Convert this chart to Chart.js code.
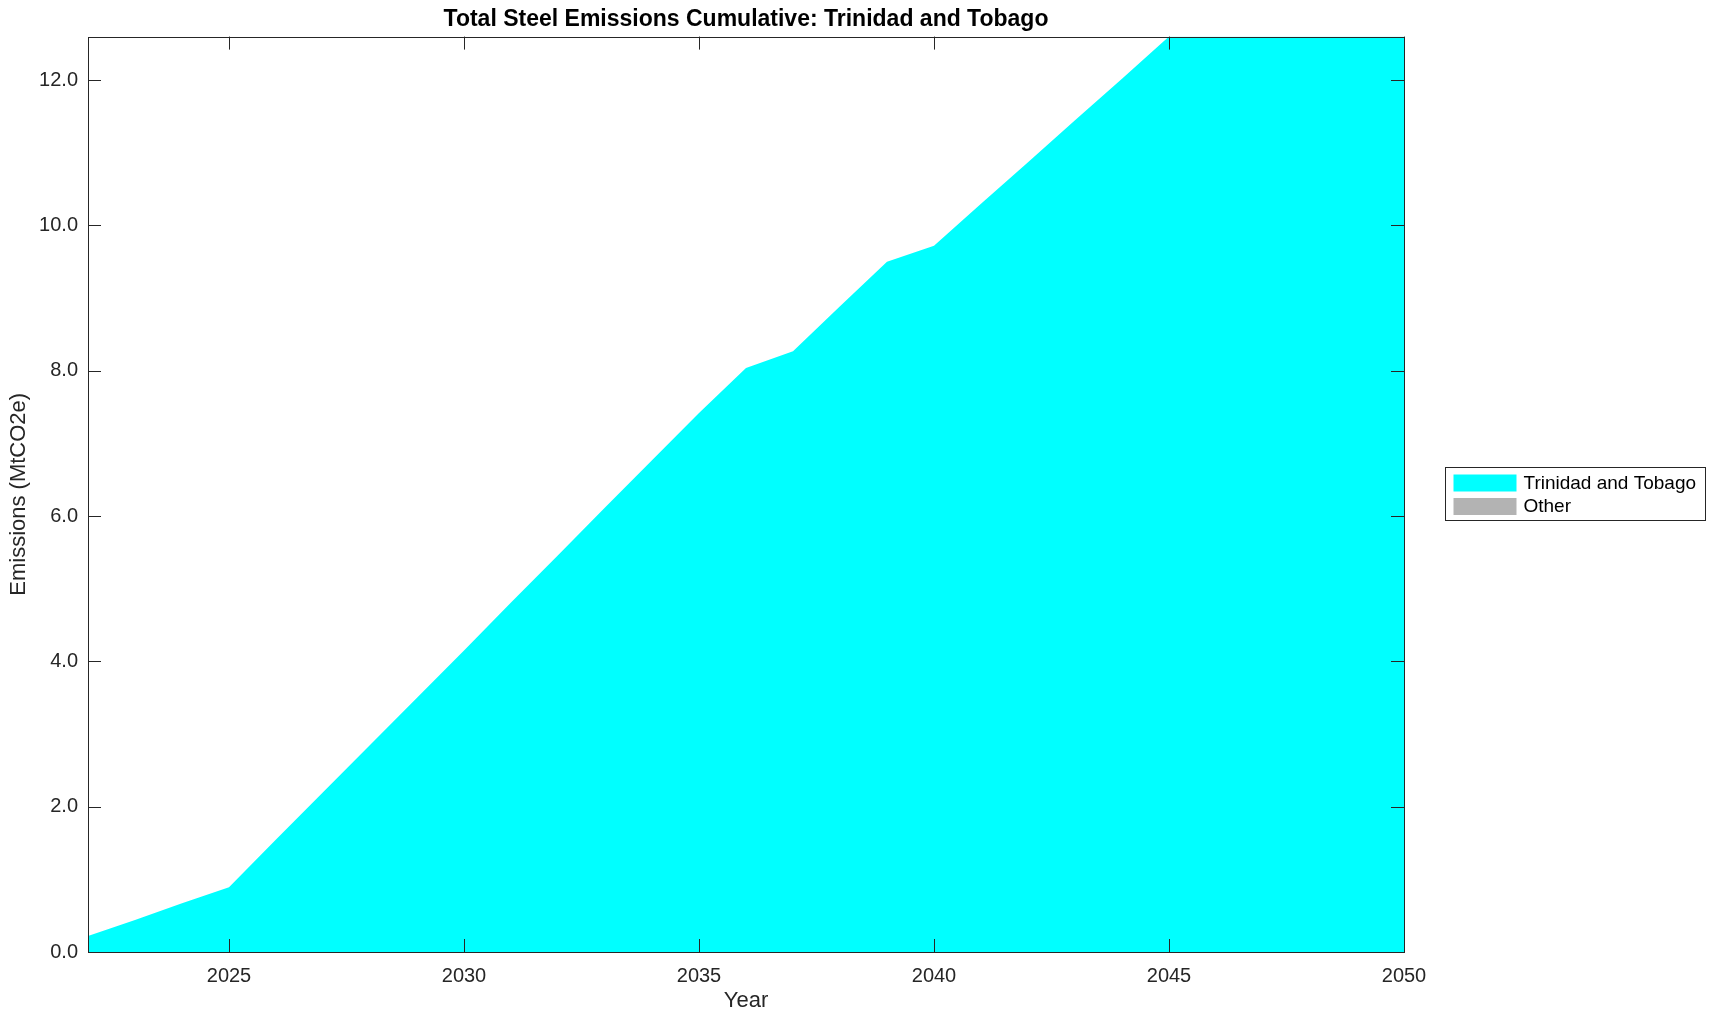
<!DOCTYPE html>
<html lang="en">
<head>
    <meta charset="UTF-8">
    <title>Total Steel Emissions Cumulative: Trinidad and Tobago</title>
    <script src="https://cdn.jsdelivr.net/npm/chart.js"></script>
    <style>
        html, body { margin: 0; padding: 0; background: #fff; }
        #wrap { width: 1716px; height: 1021px; position: relative; }
    </style>
</head>
<body>
    <div id="wrap"><canvas id="chart" width="1716" height="1021"></canvas></div>

    <script>
        // values (MtCO2e, cumulative)
        const years = [2022, 2023, 2024, 2025, 2026, 2027, 2028, 2029, 2030, 2031, 2032, 2033, 2034, 2035,
                       2036, 2037, 2038, 2039, 2040, 2041, 2042, 2043, 2044, 2045, 2046, 2047, 2048, 2049, 2050];
        const trinidad = [0.22, 0.44, 0.67, 0.89, 1.55, 2.20, 2.85, 3.50, 4.15, 4.81, 5.46, 6.12, 6.77, 7.42,
                          8.04, 8.27, 8.89, 9.50, 9.72, 10.30, 10.87, 11.45, 12.02, 12.60, 12.60, 12.60, 12.60, 12.60, 12.60];
        const other = [0, 0, 0, 0, 0, 0, 0, 0, 0, 0, 0, 0, 0, 0,
                       0, 0, 0, 0, 0, 0, 0, 0, 0, 0, 0, 0, 0, 0, 0];
        const xTicks = [2025, 2030, 2035, 2040, 2045, 2050];
        const yTicks = [0, 2, 4, 6, 8, 10, 12];

        const axisColor = '#262626';
        const fontFamily = '"Liberation Sans", Arial, Helvetica, sans-serif';

        const toPoints = (vals) => years.map((y, i) => ({ x: y, y: vals[i] }));

        // box around the axes with inward ticks on all four sides (MATLAB style)
        const boxPlugin = {
            id: 'box',
            afterDatasetsDraw(chart) {
                const { ctx, chartArea: a, scales } = chart;
                const len = 13;
                ctx.save();
                ctx.strokeStyle = axisColor;
                ctx.lineWidth = 1;
                ctx.beginPath();
                xTicks.forEach(v => {
                    const px = Math.round(scales.x.getPixelForValue(v)) + 0.5;
                    ctx.moveTo(px, a.bottom); ctx.lineTo(px, a.bottom - len);
                    ctx.moveTo(px, a.top); ctx.lineTo(px, a.top + len);
                });
                yTicks.forEach(v => {
                    const py = Math.round(scales.y.getPixelForValue(v)) + 0.5;
                    ctx.moveTo(a.left, py); ctx.lineTo(a.left + len, py);
                    ctx.moveTo(a.right, py); ctx.lineTo(a.right - len, py);
                });
                ctx.stroke();
                ctx.strokeRect(Math.round(a.left) + 0.5, Math.round(a.top) + 0.5,
                               Math.round(a.right - a.left), Math.round(a.bottom - a.top));
                ctx.restore();
            }
        };

        // legend in a framed box to the right of the axes
        const legendPlugin = {
            id: 'boxLegend',
            afterDraw(chart) {
                const { ctx } = chart;
                const x = 1445.5, y = 467.5, w = 260, h = 53;
                ctx.save();
                ctx.fillStyle = '#fff';
                ctx.fillRect(x, y, w, h);
                ctx.strokeStyle = axisColor;
                ctx.lineWidth = 1;
                ctx.strokeRect(x, y, w, h);
                ctx.font = '19px ' + fontFamily;
                ctx.textBaseline = 'middle';
                chart.data.datasets.forEach((ds, i) => {
                    const rowY = y + 7 + i * 23.5;
                    ctx.fillStyle = ds.backgroundColor;
                    ctx.fillRect(x + 8, rowY, 63, 17);
                    ctx.fillStyle = '#000';
                    ctx.fillText(ds.label, x + 78, rowY + 9);
                });
                ctx.restore();
            }
        };

        new Chart(document.getElementById('chart'), {
            type: 'line',
            data: {
                datasets: [
                    {
                        label: 'Trinidad and Tobago',
                        data: toPoints(trinidad),
                        backgroundColor: '#00ffff',
                        borderWidth: 0,
                        pointRadius: 0,
                        fill: 'origin'
                    },
                    {
                        label: 'Other',
                        data: toPoints(other),
                        backgroundColor: '#b3b3b3',
                        borderWidth: 0,
                        pointRadius: 0,
                        fill: '-1'
                    }
                ]
            },
            options: {
                responsive: false,
                animation: false,
                layout: { padding: { left: 0, right: 312, top: 0, bottom: 0 } },
                plugins: {
                    legend: { display: false },
                    tooltip: { enabled: false },
                    title: {
                        display: true,
                        fullSize: false,
                        text: 'Total Steel Emissions Cumulative: Trinidad and Tobago',
                        color: '#000',
                        font: { family: fontFamily, size: 23, weight: 'bold' },
                        padding: { top: 6, bottom: 3 }
                    }
                },
                scales: {
                    x: {
                        type: 'linear',
                        min: 2022,
                        max: 2050,
                        grid: { display: false, drawTicks: false },
                        border: { display: false },
                        afterBuildTicks: (s) => { s.ticks = xTicks.map(v => ({ value: v })); },
                        afterFit: (s) => { s.height = 69; },
                        ticks: {
                            color: axisColor,
                            padding: 12,
                            maxRotation: 0,
                            font: { family: fontFamily, size: 20 },
                            callback: (v) => String(v)
                        },
                        title: {
                            display: true,
                            text: 'Year',
                            color: axisColor,
                            font: { family: fontFamily, size: 22 },
                            padding: { top: 0, bottom: 7 }
                        }
                    },
                    y: {
                        stacked: true,
                        min: 0,
                        max: 12.6,
                        grid: { display: false, drawTicks: false },
                        border: { display: false },
                        afterBuildTicks: (s) => { s.ticks = yTicks.map(v => ({ value: v })); },
                        afterFit: (s) => { s.width = 88; },
                        ticks: {
                            color: axisColor,
                            padding: 10,
                            font: { family: fontFamily, size: 20 },
                            callback: (v) => Number(v).toFixed(1)
                        },
                        title: {
                            display: true,
                            text: 'Emissions (MtCO2e)',
                            color: axisColor,
                            font: { family: fontFamily, size: 22 },
                            padding: { top: 6, bottom: 0 }
                        }
                    }
                }
            },
            plugins: [boxPlugin, legendPlugin]
        });
    </script>
</body>
</html>
